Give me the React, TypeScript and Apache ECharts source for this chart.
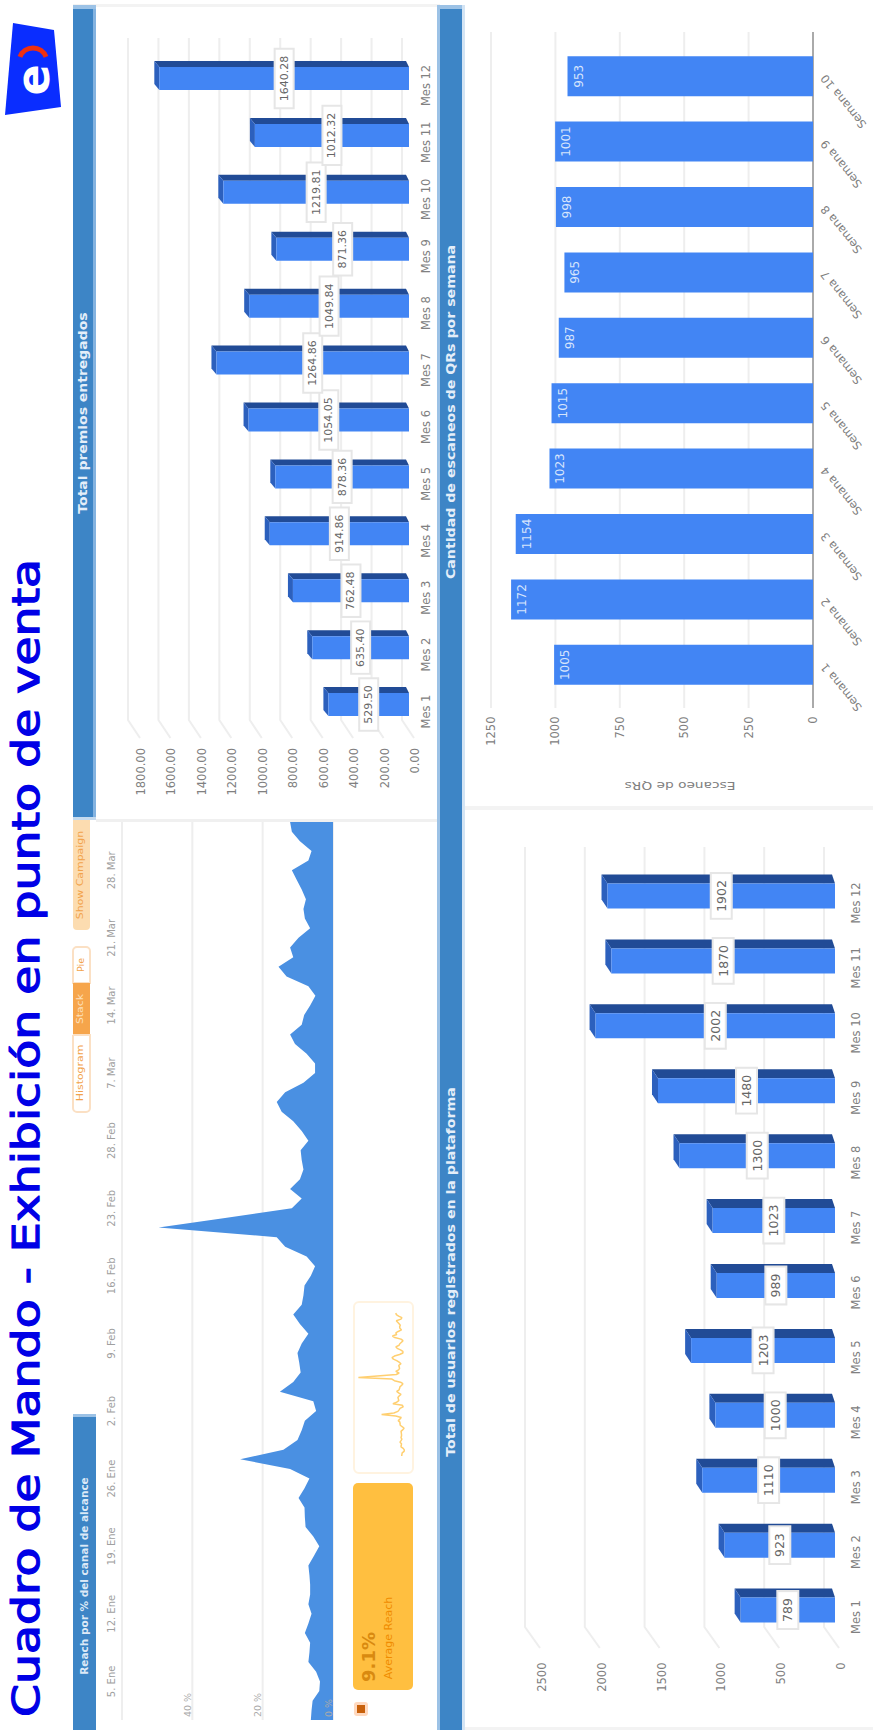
import React, { useEffect, useRef } from "react";
import * as echarts from "echarts";

// Monthly prizes handed out
const months = ["Mes 1", "Mes 2", "Mes 3", "Mes 4", "Mes 5", "Mes 6", "Mes 7", "Mes 8", "Mes 9", "Mes 10", "Mes 11", "Mes 12"];
const prizeValues = [529.5, 635.4, 762.48, 914.86, 878.36, 1054.05, 1264.86, 1049.84, 871.36, 1219.81, 1012.32, 1640.28];
const prizeTicks = [0, 200, 400, 600, 800, 1000, 1200, 1400, 1600, 1800];

// Registered users per month
const userValues = [789, 923, 1110, 1000, 1203, 989, 1023, 1300, 1480, 2002, 1870, 1902];
const userTicks = [0, 500, 1000, 1500, 2000, 2500];

// Weekly QR scans
const weeks = ["Semana 1", "Semana 2", "Semana 3", "Semana 4", "Semana 5", "Semana 6", "Semana 7", "Semana 8", "Semana 9", "Semana 10"];
const scanValues = [1005, 1172, 1154, 1023, 1015, 987, 965, 998, 1001, 953];
const scanTicks = [0, 250, 500, 750, 1000, 1250];

// Daily reach, one value per day
const reachValues = [
  6.3, 6.1, 5.8, 3.9, 3.7, 4.8, 7.0, 6.7, 6.5, 8.0, 7.0, 6.1, 7.0, 6.5, 6.5, 6.7, 7.0, 5.4, 3.9, 5.6,
  7.8, 8.0, 8.1, 9.8, 8.1, 6.7, 12.2, 26.4, 14.1, 10.1, 8.9, 8.0, 4.8, 5.6, 15.1, 11.3, 9.2, 9.6, 10.1, 8.9,
  7.0, 9.4, 11.3, 8.9, 8.4, 8.1, 6.3, 5.1, 7.5, 13.6, 16.0, 49.6, 30.7, 11.7, 8.9, 12.2, 9.4, 8.4, 8.9, 9.2,
  7.0, 8.9, 11.3, 14.6, 16.0, 13.6, 8.4, 5.1, 5.1, 7.5, 10.8, 12.2, 8.9, 8.2, 6.5, 5.0, 7.0, 13.2, 15.5, 11.3,
  12.2, 9.8, 6.5, 8.0, 8.4, 7.7, 8.9, 10.3, 11.7, 7.0, 6.1, 9.4, 11.7, 12.2,
];
const reachDates = ["5. Ene", "12. Ene", "19. Ene", "26. Ene", "2. Feb", "9. Feb", "16. Feb", "23. Feb", "28. Feb", "7. Mar", "14. Mar", "21. Mar", "28. Mar"];
const reachTicks = [0, 20, 40, 60];

const FONT = "DejaVu Sans";
const BAND = "#3d85c6";
const BAND_EDGE = "#9cc2e6";
const FRONT = "#4285f4";
const SIDE_DARK = "#214b96";
const SIDE_MID = "#2c60bd";
const GRID_LINE = "#eeeeee";
const TICK_TEXT = "#808080";

// Grid lines that run past the plot and, on the 3D charts, bend towards their tick label
function gridLineSeries(xAxisIndex: number, yAxisIndex: number, ticks: number[], o: any) {
  return {
    type: "custom",
    xAxisIndex,
    yAxisIndex,
    z: 1,
    silent: true,
    encode: { x: 0 },
    data: ticks.map((t) => [t]),
    renderItem(_p: any, api: any) {
      const v = api.value(0);
      const x = api.coord([v, 0])[0] + o.back;
      const points = [[x, o.top], [x, o.bottom]];
      if (o.foot) points.push([x + o.foot[0], o.bottom + o.foot[1]]);
      return {
        type: "polyline",
        shape: { points },
        style: { fill: "none", stroke: v === 0 && o.zeroColor ? o.zeroColor : GRID_LINE, lineWidth: 2 },
      };
    },
  };
}

// Top and end faces that give a bar its depth
function depthSeries(xAxisIndex: number, yAxisIndex: number, values: number[], o: any) {
  return {
    type: "custom",
    xAxisIndex,
    yAxisIndex,
    z: 2,
    silent: true,
    encode: { x: 0, y: 1 },
    data: values.map((v, i) => [v, i]),
    renderItem(_p: any, api: any) {
      const end = api.coord([api.value(0), api.value(1)]);
      const base = api.coord([0, api.value(1)]);
      const top = end[1] - o.width / 2;
      const bottom = end[1] + o.width / 2;
      return {
        type: "group",
        children: [
          {
            type: "polygon",
            shape: { points: [[end[0], top], [base[0], top], [base[0] - 3, top - o.dy], [end[0] - o.dx, top - o.dy]] },
            style: { fill: SIDE_DARK },
          },
          {
            type: "polygon",
            shape: { points: [[end[0], top], [end[0], bottom], [end[0] - o.dx, bottom - o.dy], [end[0] - o.dx, top - o.dy]] },
            style: { fill: SIDE_MID },
          },
        ],
      };
    },
  };
}

function boxedBar(xAxisIndex: number, yAxisIndex: number, values: number[], width: number, fontSize: number, fmt: (v: number) => string) {
  return {
    type: "bar",
    xAxisIndex,
    yAxisIndex,
    z: 3,
    barWidth: width,
    data: values,
    itemStyle: { color: FRONT },
    label: {
      show: true,
      position: "inside",
      rotate: 90,
      align: "center",
      verticalAlign: "middle",
      fontFamily: FONT,
      fontSize,
      color: "#666666",
      backgroundColor: "#ffffff",
      borderColor: "#e6e6e6",
      borderWidth: 2,
      padding: [3, 6],
      formatter: (p: any) => fmt(p.value),
    },
  };
}

function valueAxis(gridIndex: number, max: number, interval: number, margin: number, cross: string, fmt: (v: number) => string) {
  return {
    type: "value",
    gridIndex,
    min: 0,
    max,
    interval,
    inverse: true,
    position: "bottom",
    axisLine: { show: false },
    axisTick: { show: false },
    splitLine: { show: false },
    axisLabel: {
      rotate: 90,
      align: "right",
      verticalAlign: cross,
      margin,
      fontFamily: FONT,
      fontSize: 11.5,
      color: TICK_TEXT,
      formatter: fmt,
    },
  };
}

function rotatedText(text: string, x: number, y: number, size: number, fill: string, extra: any = {}) {
  return {
    type: "text",
    x,
    y,
    z: 20,
    rotation: extra.rotation ?? Math.PI / 2,
    scaleX: extra.scaleX ?? 1,
    style: {
      text,
      fill,
      stroke: extra.stroke,
      lineWidth: extra.lineWidth,
      font: `${extra.weight ?? "normal"} ${size}px "${FONT}"`,
      align: "center",
      verticalAlign: "middle",
      textAlign: "center",
      textVerticalAlign: "middle",
    },
  };
}

function plainRect(x: number, y: number, width: number, height: number, fill: string, extra: any = {}) {
  return {
    type: "rect",
    z: extra.z ?? 0,
    shape: { x, y, width, height, r: extra.r ?? 0 },
    style: { fill, stroke: extra.stroke, lineWidth: extra.lineWidth },
  };
}

const decorations = [
  // page chrome: separators and header bands
  plainRect(73, 4, 367, 3, "#f3f3f3"),
  plainRect(73, 5, 23, 4, BAND_EDGE),
  plainRect(73, 9, 20, 808, BAND),
  plainRect(93, 9, 3, 808, "#84b3e0"),
  plainRect(73, 817, 23, 3, "#c4daef"),
  plainRect(96, 819, 344, 3, "#f0f0f0"),
  plainRect(437, 5, 3, 1725, BAND_EDGE),
  plainRect(440, 5, 22, 4, BAND_EDGE),
  plainRect(440, 9, 22, 1721, BAND),
  plainRect(462, 5, 3, 1725, "#d3e4f4"),
  plainRect(465, 806, 408, 4, "#f3f3f3"),
  plainRect(465, 1727, 408, 3, "#f3f3f3"),
  plainRect(73, 1414, 23, 3, BAND_EDGE),
  plainRect(73, 1417, 23, 313, BAND),

  // heading
  rotatedText("Cuadro de Mando - Exhibición en punto de venta", 26, 1138, 37, "#0000e6", { scaleX: 1.28, stroke: "#0000e6", lineWidth: 1.2 }),

  // logo
  { type: "polygon", z: 0, shape: { points: [[13, 23], [54, 30], [61, 107], [5, 115]] }, style: { fill: "#0a2dff" } },
  { type: "arc", z: 1, shape: { cx: 33, cy: 62, r: 14, startAngle: Math.PI * 1.12, endAngle: Math.PI * 1.88 }, style: { fill: "none", stroke: "#f03010", lineWidth: 5 } },
  rotatedText("e", 33, 80, 46, "#ffffff", { weight: "bold" }),

  // panel headings
  rotatedText("Total premios entregados", 83, 413, 12, "#e4eef9", { weight: "bold", scaleX: 1.165 }),
  rotatedText("Cantidad de escaneos de QRs por semana", 451, 412, 12, "#e4eef9", { weight: "bold", scaleX: 1.18 }),
  rotatedText("Total de usuarios registrados en la plataforma", 451, 1272, 12, "#e4eef9", { weight: "bold", scaleX: 1.18 }),
  rotatedText("Reach por % del canal de alcance", 84, 1576, 10, "#dce9f7", { weight: "bold", scaleX: 1.05 }),
  rotatedText("Escaneo de QRs", 680, 786, 11, "#808080", { rotation: Math.PI, scaleX: 1.25 }),

  // chart-type buttons
  plainRect(73, 820, 17, 110, "#fcdcb0", { r: [0, 0, 4, 4] }),
  rotatedText("Show Campaign", 80, 875, 9.5, "#f2a24a", { scaleX: 1.15 }),
  plainRect(73, 947, 17, 36, "#ffffff", { r: [4, 4, 0, 0], stroke: "#fbe0c4", lineWidth: 2 }),
  rotatedText("Pie", 80, 965, 9.5, "#f2a24a"),
  plainRect(73, 983, 17, 52, "#f6a54b"),
  rotatedText("Stack", 80, 1009, 9.5, "#fde1bd", { scaleX: 1.15 }),
  plainRect(73, 1035, 17, 77, "#ffffff", { r: [0, 0, 4, 4], stroke: "#fbe0c4", lineWidth: 2 }),
  rotatedText("Histogram", 80, 1073, 9.5, "#f2a24a", { scaleX: 1.15 }),

  // average reach cards
  plainRect(353, 1483, 60, 207, "#ffbf40", { r: 5 }),
  rotatedText("9.1%", 368, 1657, 18, "#d98a10", { weight: "bold" }),
  rotatedText("Average Reach", 388, 1638, 11, "#f08c00"),
  plainRect(354, 1302, 59, 171, "#ffffff", { r: 5, stroke: "#fff3e0", lineWidth: 2 }),
  plainRect(354, 1702, 14, 14, "#ffd9bf", { r: 3 }),
  plainRect(357, 1705, 8, 8, "#c8600a"),
];

const hiddenCategory = (gridIndex: number, data: any[]) => ({
  type: "category",
  gridIndex,
  data,
  show: false,
});

const hiddenValue = (gridIndex: number, max: number) => ({
  type: "value",
  gridIndex,
  min: 0,
  max,
  inverse: true,
  show: false,
  splitLine: { show: false },
});

const monthAxis = (gridIndex: number, margin: number) => ({
  type: "category",
  gridIndex,
  data: months,
  position: "right",
  axisLine: { show: false },
  axisTick: { show: false },
  axisLabel: {
    interval: 0,
    rotate: 90,
    align: "center",
    verticalAlign: "middle",
    margin,
    padding: [0, 14, 0, 0],
    fontFamily: FONT,
    fontSize: 11.5,
    color: TICK_TEXT,
  },
});

function buildOption() {
  return {
    animation: false,
    backgroundColor: "#ffffff",
    graphic: { elements: decorations },
    grid: [
      { left: 135, top: 50, width: 274, height: 683 },
      { left: 536, top: 863.5, width: 299, height: 779 },
      { left: 491, top: 43.5, width: 322, height: 654 },
      { left: 122, top: 822, width: 211, height: 898 },
      { left: 122, top: 822, width: 211, height: 898 },
      { left: 358, top: 1313, width: 50, height: 143 },
    ],
    xAxis: [
      valueAxis(0, 1800, 200, 15, "top", (v) => v.toFixed(2)),
      valueAxis(1, 2500, 500, 20, "top", (v) => String(v)),
      valueAxis(2, 1250, 250, 19, "middle", (v) => String(v)),
      {
        type: "value",
        gridIndex: 3,
        min: 0,
        max: 60,
        interval: 20,
        inverse: true,
        position: "bottom",
        axisLine: { show: false },
        axisTick: { show: false },
        axisLabel: { show: false },
        splitLine: { show: false },
      },
      {
        type: "value",
        gridIndex: 4,
        min: 0,
        max: 60,
        interval: 20,
        inverse: true,
        position: "bottom",
        z: 6,
        axisLine: { show: false },
        axisTick: { show: false },
        splitLine: { show: false },
        axisLabel: {
          inside: true,
          rotate: 90,
          align: "left",
          verticalAlign: "bottom",
          margin: 3,
          fontFamily: FONT,
          fontSize: 9.5,
          color: "#aaaaaa",
          formatter: (v: number) => (v >= 60 ? "" : `${v} %`),
        },
      },
      hiddenValue(5, 50),
    ],
    yAxis: [
      monthAxis(0, 17),
      monthAxis(1, 21),
      {
        type: "category",
        gridIndex: 2,
        data: weeks,
        position: "right",
        axisLine: { show: false },
        axisTick: { show: false },
        axisLabel: {
          interval: 0,
          rotate: 129,
          align: "right",
          verticalAlign: "middle",
          margin: 10,
          fontFamily: FONT,
          fontSize: 11.5,
          color: TICK_TEXT,
        },
      },
      {
        type: "category",
        gridIndex: 3,
        data: reachValues.map((_, i) => i),
        boundaryGap: false,
        position: "left",
        axisLine: { show: false },
        axisTick: { show: false },
        axisLabel: {
          rotate: 90,
          align: "center",
          verticalAlign: "middle",
          margin: 11,
          fontFamily: FONT,
          fontSize: 10,
          color: "#a0a0a0",
          interval: (i: number) => i >= 4 && (i - 4) % 7 === 0,
          formatter: (_v: string, i: number) => reachDates[(i - 4) / 7] ?? "",
        },
      },
      hiddenCategory(4, reachValues.map((_, i) => i)),
      { ...hiddenCategory(5, reachValues.map((_, i) => i)), boundaryGap: false },
    ],
    series: [
      // Total premios entregados
      gridLineSeries(0, 0, prizeTicks, { back: -7, top: 38, bottom: 720, foot: [12, 18] }),
      depthSeries(0, 0, prizeValues, { width: 23, dx: 5, dy: 6 }),
      boxedBar(0, 0, prizeValues, 23, 11, (v) => v.toFixed(2)),

      // Total de usuarios registrados
      gridLineSeries(1, 1, userTicks, { back: -11, top: 847, bottom: 1627, foot: [15, 21] }),
      depthSeries(1, 1, userValues, { width: 25, dx: 6, dy: 9 }),
      boxedBar(1, 1, userValues, 25, 12.5, (v) => String(v)),

      // Cantidad de escaneos
      gridLineSeries(2, 2, scanTicks, { back: 0, top: 32, bottom: 708, zeroColor: "#aaaaaa" }),
      {
        type: "bar",
        xAxisIndex: 2,
        yAxisIndex: 2,
        z: 3,
        barWidth: 40,
        data: scanValues,
        itemStyle: { color: FRONT },
        label: {
          show: true,
          position: "insideLeft",
          distance: 5,
          rotate: 90,
          align: "center",
          verticalAlign: "top",
          fontFamily: FONT,
          fontSize: 12,
          color: "#d6e4fc",
        },
      },

      // Reach diario
      gridLineSeries(3, 3, reachTicks, { back: 0, top: 822, bottom: 1720 }),
      {
        type: "line",
        xAxisIndex: 3,
        yAxisIndex: 3,
        z: 3,
        data: reachValues,
        showSymbol: false,
        lineStyle: { width: 0 },
        areaStyle: { color: "#4a90e2", opacity: 1 },
      },
      {
        type: "line",
        xAxisIndex: 5,
        yAxisIndex: 5,
        z: 3,
        data: reachValues,
        showSymbol: false,
        lineStyle: { width: 1.5, color: "#ffcf70" },
      },
    ],
  };
}

export default function App() {
  const ref = useRef<HTMLDivElement>(null);

  useEffect(() => {
    document.body.style.margin = "0";
    const chart = echarts.init(ref.current!, null, { renderer: "svg" });
    chart.setOption(buildOption() as any);
    return () => chart.dispose();
  }, []);

  return <div ref={ref} style={{ width: 873, height: 1730 }} />;
}
